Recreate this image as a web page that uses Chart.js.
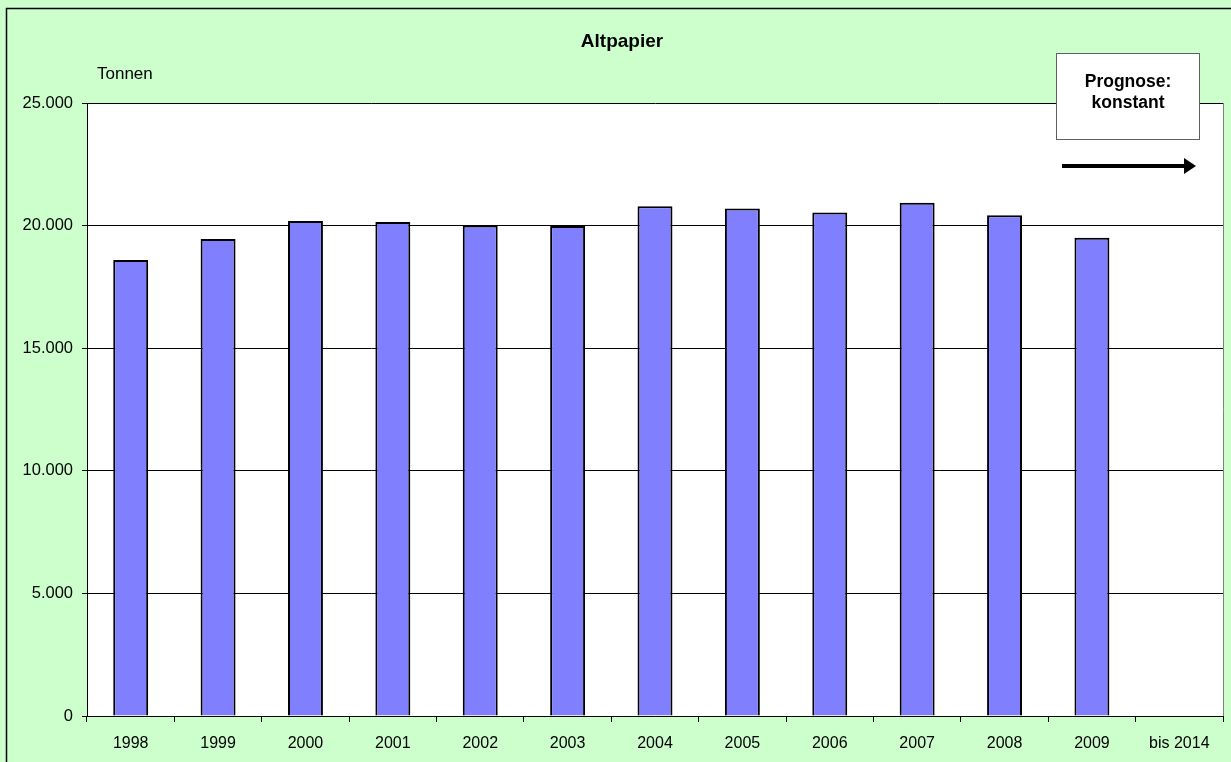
<!DOCTYPE html>
<html>
<head>
<meta charset="utf-8">
<script src="https://cdn.jsdelivr.net/npm/chart.js@4/dist/chart.umd.min.js"></script>
<style>
  html, body { margin: 0; padding: 0; background: #CCFFCC; }
  canvas { display: block; }
</style>
</head>
<body>
<canvas id="c" width="1231" height="762"></canvas>
<script>
const categories = ['1998', '1999', '2000', '2001', '2002', '2003', '2004', '2005', '2006', '2007', '2008', '2009', 'bis 2014'];
const tonnen = [18600, 19450, 20190, 20150, 20000, 19980, 20790, 20700, 20530, 20930, 20420, 19500, null];
const yTicks = [0, 5000, 10000, 15000, 20000, 25000];
const chartTitle = 'Altpapier';
const unitLabel = 'Tonnen';
const noteLines = ['Prognose:', 'konstant'];

function fmt(v) {
  return String(v).replace(/\B(?=(\d{3})+(?!\d))/g, '.');
}

const FONT = '"Liberation Sans", Arial, sans-serif';

const decor = {
  id: 'decor',
  beforeDraw(chart) {
    const ctx = chart.ctx;
    const a = chart.chartArea;
    ctx.save();
    ctx.fillStyle = '#CCFFCC';
    ctx.fillRect(0, 0, chart.width, chart.height);
    ctx.strokeStyle = '#000';
    ctx.lineWidth = 1.5;
    ctx.strokeRect(6.5, 8.5, chart.width + 20, chart.height + 20);
    ctx.fillStyle = '#FFFFFF';
    ctx.fillRect(a.left, a.top, a.right - a.left, a.bottom - a.top);
    ctx.restore();
  },
  afterDraw(chart) {
    const ctx = chart.ctx;
    const a = chart.chartArea;
    ctx.save();
    // plot area right border
    ctx.strokeStyle = '#808080';
    ctx.lineWidth = 1;
    ctx.beginPath();
    ctx.moveTo(Math.round(a.right) + 0.5, a.top);
    ctx.lineTo(Math.round(a.right) + 0.5, a.bottom);
    ctx.stroke();
    // title
    ctx.fillStyle = '#000';
    ctx.font = 'bold 19px ' + FONT;
    ctx.textAlign = 'center';
    ctx.textBaseline = 'alphabetic';
    ctx.fillText(chartTitle, 622, 47);
    // unit label
    ctx.font = '17px ' + FONT;
    ctx.textAlign = 'left';
    ctx.fillText(unitLabel, 97, 79);
    // forecast box
    ctx.fillStyle = '#FFFFFF';
    ctx.fillRect(1056, 53, 143, 86);
    ctx.strokeStyle = '#606060';
    ctx.lineWidth = 1;
    ctx.strokeRect(1056.5, 53.5, 143, 86);
    ctx.fillStyle = '#000';
    ctx.font = 'bold 17.5px ' + FONT;
    ctx.textAlign = 'center';
    ctx.fillText(noteLines[0], 1128, 87);
    ctx.fillText(noteLines[1], 1128, 108);
    // arrow
    ctx.strokeStyle = '#000';
    ctx.lineWidth = 4;
    ctx.beginPath();
    ctx.moveTo(1062, 166);
    ctx.lineTo(1186, 166);
    ctx.stroke();
    ctx.beginPath();
    ctx.moveTo(1196, 166);
    ctx.lineTo(1184, 158);
    ctx.lineTo(1184, 174);
    ctx.closePath();
    ctx.fill();
    ctx.restore();
  }
};

new Chart(document.getElementById('c'), {
  type: 'bar',
  data: {
    labels: categories,
    datasets: [{
      label: unitLabel,
      data: tonnen,
      backgroundColor: '#8080FF',
      borderColor: '#000000',
      borderWidth: 2,
      barPercentage: 0.4,
      categoryPercentage: 1.0
    }]
  },
  options: {
    responsive: false,
    animation: false,
    devicePixelRatio: 1,
    layout: { padding: { left: 0, right: 8, top: 103, bottom: 0 } },
    plugins: {
      legend: { display: false },
      title: { display: false },
      tooltip: { enabled: false }
    },
    scales: {
      x: {
        offset: true,
        grid: {
          offset: true,
          drawOnChartArea: false,
          drawTicks: true,
          tickLength: 6,
          tickColor: '#000'
        },
        border: { display: true, color: '#000', width: 1 },
        ticks: {
          color: '#000',
          font: { family: FONT, size: 16 },
          padding: 12,
          maxRotation: 0,
          autoSkip: false
        },
        afterFit(scale) { scale.height = 46; }
      },
      y: {
        min: 0,
        max: 25000,
        afterBuildTicks(scale) { scale.ticks = yTicks.map(v => ({ value: v })); },
        grid: {
          color: '#000',
          lineWidth: 1,
          drawTicks: true,
          tickLength: 5,
          tickColor: '#000'
        },
        border: { display: true, color: '#000', width: 1 },
        ticks: {
          color: '#000',
          font: { family: FONT, size: 16.5 },
          padding: 9,
          callback: (v) => fmt(v)
        },
        afterFit(scale) { scale.width = 87; }
      }
    }
  },
  plugins: [decor]
});
</script>
</body>
</html>
